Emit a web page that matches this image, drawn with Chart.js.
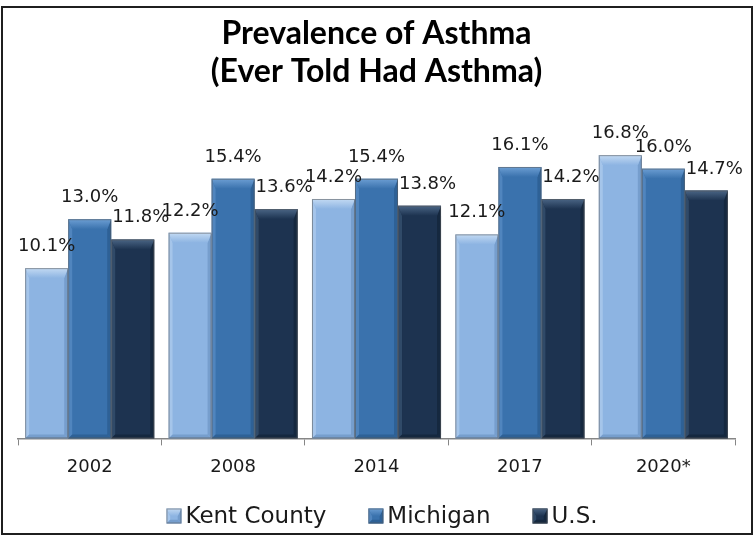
<!DOCTYPE html>
<html>
<head>
<meta charset="utf-8">
<title>Prevalence of Asthma</title>
<script src="https://cdn.jsdelivr.net/npm/chart.js@4.4.0/dist/chart.umd.min.js"></script>
<style>
    html, body { margin: 0; padding: 0; background: #ffffff; }
    #wrap { width: 756px; height: 539px; }
</style>
</head>
<body>
<div id="wrap"><canvas id="asthmaChart" width="756" height="539"></canvas></div>
<script>
// Data
const years = ['2002', '2008', '2014', '2017', '2020*'];
const kentCounty = [10.1, 12.2, 14.2, 12.1, 16.8];
const michigan = [13.0, 15.4, 15.4, 16.1, 16.0];
const unitedStates = [11.8, 13.6, 13.8, 14.2, 14.7];
const seriesNames = ['Kent County', 'Michigan', 'U.S.'];
const yMin = 0;
const yMax = 20;

// Colour palette (main face, bevel highlight, bevel shadow) + label nudge
const colors = {
    kent:     { main: '#8db4e2', light: '#c3daf3', dark: '#7099c8', labelDx: 0 },
    michigan: { main: '#3a72ad', light: '#6c9ed3', dark: '#2c5d90', labelDx: 0 },
    us:       { main: '#1d3350', light: '#4a6585', dark: '#14253b', labelDx: 8 },
    text: '#1a1a1a',
    axis: '#868686',
    frame: '#1f1f1f'
};
const palette = [colors.kent, colors.michigan, colors.us];

const labelFont = "'DejaVu Sans', sans-serif";

// Draws a bevelled column like the Excel 3-D effect
function drawBevel(ctx, left, right, top, base, pal) {
    const s = Math.min(4, (right - left) / 4);
    const b = Math.min(10, Math.max(0, (base - top) / 2));
    // left edge
    ctx.fillStyle = pal.light;
    ctx.globalAlpha = 0.45;
    ctx.beginPath();
    ctx.moveTo(left, top); ctx.lineTo(left + s, top + b);
    ctx.lineTo(left + s, base - s); ctx.lineTo(left, base);
    ctx.closePath(); ctx.fill();
    // right edge
    ctx.fillStyle = pal.dark;
    ctx.globalAlpha = 0.8;
    ctx.beginPath();
    ctx.moveTo(right, top); ctx.lineTo(right - s, top + b);
    ctx.lineTo(right - s, base - s); ctx.lineTo(right, base);
    ctx.closePath(); ctx.fill();
    // bottom edge
    ctx.beginPath();
    ctx.moveTo(left, base); ctx.lineTo(right, base);
    ctx.lineTo(right - s, base - s); ctx.lineTo(left + s, base - s);
    ctx.closePath(); ctx.fill();
    // top face
    ctx.globalAlpha = 1;
    const grad = ctx.createLinearGradient(0, top, 0, top + b);
    grad.addColorStop(0, pal.light);
    grad.addColorStop(1, pal.main);
    ctx.fillStyle = grad;
    ctx.beginPath();
    ctx.moveTo(left, top); ctx.lineTo(right, top);
    ctx.lineTo(right - s, top + b); ctx.lineTo(left + s, top + b);
    ctx.closePath(); ctx.fill();
    // outline
    ctx.strokeStyle = 'rgba(90, 90, 90, 0.55)';
    ctx.lineWidth = 1;
    ctx.strokeRect(left + 0.5, top + 0.5, right - left - 1, base - top - 1);
}

// Frame and white background
const framePlugin = {
    id: 'frame',
    beforeDraw(chart) {
        const ctx = chart.ctx;
        ctx.save();
        ctx.fillStyle = '#ffffff';
        ctx.fillRect(0, 0, chart.width, chart.height);
        ctx.strokeStyle = colors.frame;
        ctx.lineWidth = 2;
        ctx.strokeRect(2, 7, 750, 527);
        ctx.restore();
    }
};

// Bevels and value labels on top of the bars
const barDecorPlugin = {
    id: 'barDecor',
    afterDatasetsDraw(chart) {
        const ctx = chart.ctx;
        ctx.save();
        chart.data.datasets.forEach((ds, i) => {
            const meta = chart.getDatasetMeta(i);
            meta.data.forEach((bar) => {
                const p = bar.getProps(['x', 'y', 'base', 'width'], true);
                drawBevel(ctx, p.x - p.width / 2, p.x + p.width / 2, p.y, p.base, palette[i]);
            });
        });
        ctx.font = '18px ' + labelFont;
        ctx.fillStyle = colors.text;
        ctx.textAlign = 'center';
        ctx.textBaseline = 'alphabetic';
        chart.data.datasets.forEach((ds, i) => {
            const meta = chart.getDatasetMeta(i);
            meta.data.forEach((bar, j) => {
                const p = bar.getProps(['x', 'y'], true);
                ctx.fillText(ds.data[j].toFixed(1) + '%', p.x + palette[i].labelDx, p.y - 17);
            });
        });
        ctx.restore();
    }
};

// Excel-style legend: small bevelled square tight against its text
const legendPlugin = {
    id: 'excelLegend',
    afterDraw(chart) {
        const ctx = chart.ctx;
        const box = 15, boxGap = 4, itemGap = 42;
        const centerX = 382, centerY = 516;
        ctx.save();
        ctx.font = '23px ' + labelFont;
        const widths = seriesNames.map(n => ctx.measureText(n).width);
        const total = widths.reduce((a, w) => a + box + boxGap + w, 0) + itemGap * (seriesNames.length - 1);
        let x = centerX - total / 2;
        ctx.textBaseline = 'middle';
        ctx.textAlign = 'left';
        seriesNames.forEach((name, i) => {
            const top = centerY - box / 2;
            ctx.fillStyle = palette[i].main;
            ctx.fillRect(x, top, box, box);
            drawBevel(ctx, x, x + box, top, top + box, palette[i]);
            ctx.globalAlpha = 1;
            ctx.fillStyle = colors.text;
            ctx.fillText(name, x + box + boxGap, centerY + 1);
            x += box + boxGap + widths[i] + itemGap;
        });
        ctx.restore();
    }
};

const seriesData = [kentCounty, michigan, unitedStates];

new Chart(document.getElementById('asthmaChart'), {
    type: 'bar',
    data: {
        labels: years,
        datasets: seriesNames.map((name, i) => ({
            label: name,
            data: seriesData[i],
            backgroundColor: palette[i].main,
            borderWidth: 0,
            categoryPercentage: 0.9,
            barPercentage: 1.0
        }))
    },
    options: {
        responsive: false,
        animation: false,
        layout: {
            padding: { top: 7, left: 18, right: 21, bottom: 50 }
        },
        plugins: {
            title: {
                display: true,
                text: ['Prevalence of Asthma', '(Ever Told Had Asthma)'],
                color: '#000000',
                font: { family: "'Lato', sans-serif", size: 32, weight: 'bold', lineHeight: 1.2 },
                padding: { top: 7, bottom: 10.4 }
            },
            legend: { display: false },
            tooltip: { enabled: false }
        },
        scales: {
            x: {
                grid: {
                    display: true,
                    drawOnChartArea: false,
                    drawTicks: true,
                    tickLength: 7,
                    color: colors.axis
                },
                border: { display: true, color: colors.axis, width: 1.5 },
                ticks: {
                    color: colors.text,
                    padding: 11,
                    font: { family: labelFont, size: 18 }
                }
            },
            y: {
                display: false,
                min: yMin,
                max: yMax
            }
        }
    },
    plugins: [framePlugin, barDecorPlugin, legendPlugin]
});
</script>
</body>
</html>
